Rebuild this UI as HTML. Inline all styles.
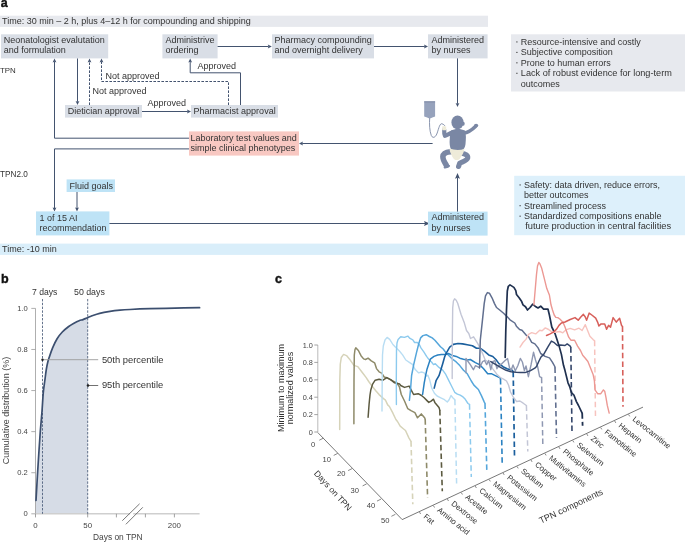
<!DOCTYPE html>
<html><head><meta charset="utf-8"><style>
html,body{margin:0;padding:0;background:#fff;}
svg{display:block;will-change:transform;}
text{font-family:"Liberation Sans",sans-serif;}
</style></head><body>
<svg width="685" height="542" viewBox="0 0 685 542" font-family="Liberation Sans, sans-serif"><text x="0.7" y="6.6" font-size="12.5" fill="#111" font-weight="bold" stroke="#111" stroke-width="0.4">a</text>
<rect x="0" y="15.7" width="488" height="11.2" fill="#e7e9ee"/>
<text x="2" y="24.3" font-size="9" fill="#333333">Time: 30 min – 2 h, plus 4–12 h for compounding and shipping</text>
<rect x="1" y="34.3" width="107.2" height="24.1" fill="#d9dee6"/>
<text x="3.7" y="43.3" font-size="9" fill="#333333">Neonatologist evalutation</text>
<text x="3.7" y="53.2" font-size="9" fill="#333333">and formulation</text>
<rect x="162.4" y="34.3" width="55.2" height="24.1" fill="#d9dee6"/>
<text x="165.6" y="43.3" font-size="9" fill="#333333">Administrive</text>
<text x="165.6" y="53.2" font-size="9" fill="#333333">ordering</text>
<rect x="272" y="34.3" width="102" height="24.1" fill="#d9dee6"/>
<text x="274.6" y="43.3" font-size="9" fill="#333333">Pharmacy compounding</text>
<text x="274.6" y="53.2" font-size="9" fill="#333333">and overnight delivery</text>
<rect x="428" y="34.3" width="59.6" height="24.1" fill="#d9dee6"/>
<text x="431.4" y="43.3" font-size="9" fill="#333333">Administered</text>
<text x="431.4" y="53.2" font-size="9" fill="#333333">by nurses</text>
<rect x="511" y="34.3" width="174" height="57.2" fill="#e7e9ee"/>
<rect x="516" y="41.5" width="1.7" height="0.9" fill="#555"/>
<text x="520.8" y="44.7" font-size="9" fill="#333333">Resource-intensive and costly</text>
<rect x="516" y="51.9" width="1.7" height="0.9" fill="#555"/>
<text x="520.8" y="55.1" font-size="9" fill="#333333">Subjective composition</text>
<rect x="516" y="62.39999999999999" width="1.7" height="0.9" fill="#555"/>
<text x="520.8" y="65.6" font-size="9" fill="#333333">Prone to human errors</text>
<rect x="516" y="72.8" width="1.7" height="0.9" fill="#555"/>
<text x="520.8" y="76.0" font-size="9" fill="#333333" textLength="151" lengthAdjust="spacingAndGlyphs">Lack of robust evidence for long-term</text>
<text x="520.8" y="86.5" font-size="9" fill="#333333">outcomes</text>
<text x="0" y="72.6" font-size="7.9" fill="#333333">TPN</text>
<rect x="65" y="105" width="77" height="12.6" fill="#d9dee6"/>
<text x="67.8" y="113.6" font-size="9" fill="#333333">Dietician approval</text>
<rect x="191" y="105" width="87" height="12.6" fill="#d9dee6"/>
<text x="193.6" y="113.6" font-size="9" fill="#333333">Pharmacist approval</text>
<text x="105.6" y="78.6" font-size="9" fill="#333333">Not approved</text>
<text x="92.6" y="94.4" font-size="9" fill="#333333">Not approved</text>
<text x="197.4" y="68.6" font-size="9" fill="#333333">Approved</text>
<text x="147.6" y="106" font-size="9" fill="#333333">Approved</text>
<path d="M77.5,58.5 L77.5,101.8" fill="none" stroke="#43536f" stroke-width="1"/>
<path d="M77.50,105.00 L75.60,101.00 L77.50,101.72 L79.40,101.00 Z" fill="#43536f"/>
<path d="M89.5,105 L89.5,61.7" fill="none" stroke="#43536f" stroke-width="1" stroke-dasharray="2.6,1.4"/>
<path d="M89.50,58.50 L87.60,62.50 L89.50,61.78 L91.40,62.50 Z" fill="#43536f"/>
<path d="M228.5,105 L228.5,81.5 L101.5,81.5 L101.5,61.7" fill="none" stroke="#43536f" stroke-width="1" stroke-dasharray="2.6,1.4"/>
<path d="M101.50,58.50 L99.60,62.50 L101.50,61.78 L103.40,62.50 Z" fill="#43536f"/>
<path d="M142,111.5 L187.8,111.5" fill="none" stroke="#43536f" stroke-width="1"/>
<path d="M191.00,111.50 L187.00,109.60 L187.72,111.50 L187.00,113.40 Z" fill="#43536f"/>
<path d="M240.5,105 L240.5,72.8 L190.2,72.8 L190.2,61.7" fill="none" stroke="#43536f" stroke-width="1"/>
<path d="M190.20,58.50 L188.30,62.50 L190.20,61.78 L192.10,62.50 Z" fill="#43536f"/>
<path d="M217.6,46.5 L268.6,46.5" fill="none" stroke="#43536f" stroke-width="1"/>
<path d="M271.80,46.50 L267.80,44.60 L268.52,46.50 L267.80,48.40 Z" fill="#43536f"/>
<path d="M374,46.5 L424.8,46.5" fill="none" stroke="#43536f" stroke-width="1"/>
<path d="M428.00,46.50 L424.00,44.60 L424.72,46.50 L424.00,48.40 Z" fill="#43536f"/>
<path d="M457.5,58.4 L457.5,103.8" fill="none" stroke="#43536f" stroke-width="1"/>
<path d="M457.50,107.00 L455.60,103.00 L457.50,103.72 L459.40,103.00 Z" fill="#43536f"/>
<rect x="189" y="131.4" width="110" height="24.2" fill="#f8c8c2"/>
<text x="190.6" y="141" font-size="9" fill="#333333">Laboratory test values and</text>
<text x="190.6" y="151" font-size="9" fill="#333333">simple clinical phenotypes</text>
<path d="M432.6,143.5 L302.2,143.5" fill="none" stroke="#43536f" stroke-width="1"/>
<path d="M299.00,143.50 L303.00,141.60 L302.28,143.50 L303.00,145.40 Z" fill="#43536f"/>
<path d="M189,138.2 L54.5,138.2 L54.5,61.7" fill="none" stroke="#43536f" stroke-width="1"/>
<path d="M54.50,58.50 L52.60,62.50 L54.50,61.78 L56.40,62.50 Z" fill="#43536f"/>
<path d="M189,148.9 L54.5,148.9 L54.5,208.20000000000002" fill="none" stroke="#43536f" stroke-width="1"/>
<path d="M54.50,211.40 L52.60,207.40 L54.50,208.12 L56.40,207.40 Z" fill="#43536f"/>
<text x="0" y="177.4" font-size="8.2" fill="#333333">TPN2.0</text>
<rect x="66.6" y="179.4" width="48.4" height="12.6" fill="#bee3f6"/>
<text x="69.6" y="188.6" font-size="9" fill="#333333">Fluid goals</text>
<path d="M77,192 L77,208.20000000000002" fill="none" stroke="#43536f" stroke-width="1"/>
<path d="M77.00,211.40 L75.10,207.40 L77.00,208.12 L78.90,207.40 Z" fill="#43536f"/>
<rect x="36" y="211.4" width="73.4" height="24" fill="#bee3f6"/>
<text x="39.4" y="220.6" font-size="9" fill="#333333">1 of 15 AI</text>
<text x="39.4" y="231" font-size="9" fill="#333333">recommendation</text>
<path d="M109.4,223.5 L425.16,223.5" fill="none" stroke="#43536f" stroke-width="1"/>
<path d="M429.80,223.50 L424.00,221.00 L425.04,223.50 L424.00,226.00 Z" fill="#43536f"/>
<rect x="428" y="211.6" width="59.6" height="24" fill="#bee3f6"/>
<text x="431.4" y="220.4" font-size="9" fill="#333333">Administered</text>
<text x="431.4" y="230.6" font-size="9" fill="#333333">by nurses</text>
<path d="M457.5,211.6 L457.5,177.54" fill="none" stroke="#43536f" stroke-width="1"/>
<path d="M457.50,172.90 L455.00,178.70 L457.50,177.66 L460.00,178.70 Z" fill="#43536f"/>
<rect x="514.2" y="175.8" width="170.8" height="59.4" fill="#ddf0fb"/>
<rect x="519.3" y="184.5" width="1.7" height="0.9" fill="#555"/>
<text x="523.9" y="187.7" font-size="9" fill="#333333">Safety: data driven, reduce errors,</text>
<text x="523.9" y="198.1" font-size="9" fill="#333333">better outcomes</text>
<rect x="519.3" y="205.3" width="1.7" height="0.9" fill="#555"/>
<text x="523.9" y="208.5" font-size="9" fill="#333333">Streamlined process</text>
<rect x="519.3" y="215.70000000000002" width="1.7" height="0.9" fill="#555"/>
<text x="523.9" y="218.9" font-size="9" fill="#333333">Standardized compositions enable</text>
<text x="525.2" y="229.4" font-size="9" fill="#333333" textLength="146" lengthAdjust="spacingAndGlyphs">future production in central facilities</text>
<rect x="0" y="243.6" width="488" height="11.3" fill="#d9eefa"/>
<text x="2" y="252.2" font-size="9" fill="#333333">Time: -10 min</text>
<path d="M424.2,101.6 L435.1,101.6 L435.1,116.6 L433,117.3 L430.6,118.2 L428.8,118.2 L426.5,117.3 L424.2,116.6 Z" fill="#96a2bc"/>
<rect x="424.2" y="101.3" width="10.9" height="1.1" fill="#7f8ba6"/>
<path d="M429.7,118 C429.2,124 429.6,131 431.3,135.5 C432.5,138.5 435.5,138 437.2,133 C438.8,128 440,123 442,123.8 C443.5,124.3 444.5,125.2 445,126" fill="none" stroke="#7d89a5" stroke-width="0.9"/>
<g transform="translate(440,112) scale(0.11084)">
<ellipse cx="158" cy="94" rx="55" ry="62" fill="#7a87a4"/>
<ellipse cx="210" cy="105" rx="13" ry="18" fill="#7a87a4"/>
<path d="M100,168 C130,148 190,148 225,168 C238,200 234,250 230,290 C226,322 214,338 198,342 L102,342 C88,322 84,282 88,242 C90,212 92,188 100,168 Z" fill="#7a87a4"/>
<path d="M110,185 C85,195 60,210 45,215 C38,200 37,180 38,160" fill="none" stroke="#7a87a4" stroke-width="38" stroke-linecap="round" stroke-linejoin="round"/>
<path d="M212,190 C255,185 290,160 322,128" fill="none" stroke="#7a87a4" stroke-width="32" stroke-linecap="round"/>
<ellipse cx="326" cy="122" rx="19" ry="16" fill="#7a87a4"/>
<path d="M95,358 C55,362 28,378 26,402 C25,428 42,455 56,478" fill="none" stroke="#7a87a4" stroke-width="50" stroke-linecap="round"/>
<ellipse cx="62" cy="493" rx="30" ry="14" transform="rotate(-18 62 493)" fill="#7a87a4"/>
<path d="M192,372 C232,376 254,392 250,415 C246,436 205,448 178,462 L168,490" fill="none" stroke="#7a87a4" stroke-width="46" stroke-linecap="round" stroke-linejoin="round"/>
<ellipse cx="163" cy="497" rx="17" ry="16" fill="#7a87a4"/>
<rect x="20" y="128" width="36" height="36" rx="4" fill="#eeebd9"/>
<path d="M86,330 C130,346 180,346 220,334 C217,364 202,386 186,410 C176,430 160,436 140,432 C118,428 110,400 100,380 C92,364 87,350 86,330 Z" fill="#eeebd9"/>
</g>
<text x="0.9" y="282.7" font-size="12.5" fill="#111" font-weight="bold" stroke="#111" stroke-width="0.4">b</text>
<path d="M36,500.5 C36.23,496.42 36.92,484.08 37.40,476.00 C37.88,467.92 38.40,459.67 38.90,452.00 C39.40,444.33 39.88,436.80 40.40,430.00 C40.92,423.20 41.52,417.48 42.00,411.20 C42.48,404.92 42.82,397.50 43.30,392.30 C43.78,387.10 44.40,383.80 44.90,380.00 C45.40,376.20 45.82,372.50 46.30,369.50 C46.78,366.50 47.28,364.12 47.80,362.00 C48.32,359.88 48.60,359.17 49.40,356.80 C50.20,354.43 51.32,350.82 52.60,347.80 C53.88,344.78 55.48,341.33 57.10,338.70 C58.72,336.07 60.37,334.03 62.30,332.00 C64.23,329.97 66.75,327.97 68.70,326.50 C70.65,325.03 72.27,324.17 74.00,323.20 C75.73,322.23 77.60,321.30 79.10,320.70 C80.60,320.10 81.72,320.05 83.00,319.60 C84.28,319.15 86.02,318.33 86.80,318.00 C87.58,317.67 87.55,317.67 87.70,317.60 L87.7,513.8 L35.5,513.8 L35.5,500.5 Z" fill="#d6dce6"/>
<path d="M35.5,308.4 L35.5,513.8" stroke="#9a9a9a" stroke-width="0.8" fill="none"/>
<path d="M35.5,513.8 L130,513.8 M133.2,513.8 L199.6,513.8" stroke="#cfcfcf" stroke-width="1.4" fill="none"/>
<path d="M31.3,513.80 L35.5,513.80" stroke="#9a9a9a" stroke-width="0.8"/>
<text x="27.8" y="516.4" font-size="7.6" fill="#444" text-anchor="end">0</text>
<path d="M31.3,472.72 L35.5,472.72" stroke="#9a9a9a" stroke-width="0.8"/>
<text x="27.8" y="475.32" font-size="7.6" fill="#444" text-anchor="end">0.2</text>
<path d="M31.3,431.64 L35.5,431.64" stroke="#9a9a9a" stroke-width="0.8"/>
<text x="27.8" y="434.24" font-size="7.6" fill="#444" text-anchor="end">0.4</text>
<path d="M31.3,390.56 L35.5,390.56" stroke="#9a9a9a" stroke-width="0.8"/>
<text x="27.8" y="393.16" font-size="7.6" fill="#444" text-anchor="end">0.6</text>
<path d="M31.3,349.48 L35.5,349.48" stroke="#9a9a9a" stroke-width="0.8"/>
<text x="27.8" y="352.08" font-size="7.6" fill="#444" text-anchor="end">0.8</text>
<path d="M31.3,308.40 L35.5,308.40" stroke="#9a9a9a" stroke-width="0.8"/>
<text x="27.8" y="311.0" font-size="7.6" fill="#444" text-anchor="end">1.0</text>
<path d="M35.5,513.8 L35.5,517.4" stroke="#8a8a8a" stroke-width="0.8"/>
<path d="M87.7,513.8 L87.7,517.4" stroke="#8a8a8a" stroke-width="0.8"/>
<path d="M116.4,513.8 L116.4,517.4" stroke="#8a8a8a" stroke-width="0.8"/>
<path d="M145.4,513.8 L145.4,517.4" stroke="#8a8a8a" stroke-width="0.8"/>
<path d="M174.4,513.8 L174.4,517.4" stroke="#8a8a8a" stroke-width="0.8"/>
<text x="35.5" y="527.6" font-size="7.9" fill="#444" text-anchor="middle">0</text>
<text x="87.7" y="527.6" font-size="7.9" fill="#444" text-anchor="middle">50</text>
<text x="174.4" y="527.6" font-size="7.9" fill="#444" text-anchor="middle">200</text>
<path d="M122.3,520.7 L139.6,503.8 M125.9,524.3 L142.8,507.3" stroke="#555" stroke-width="0.8" fill="none"/>
<text x="93" y="540" font-size="8.4" fill="#444">Days on TPN</text>
<path d="M42.5,299 L42.5,513.8 M87.7,299 L87.7,513.8" stroke="#3c4f6f" stroke-width="0.8" stroke-dasharray="2.4,1.4" fill="none"/>
<text x="32" y="294.6" font-size="8.6" fill="#333">7 days</text>
<text x="74" y="294.6" font-size="8.8" fill="#333">50 days</text>
<path d="M36,500.5 C36.23,496.42 36.92,484.08 37.40,476.00 C37.88,467.92 38.40,459.67 38.90,452.00 C39.40,444.33 39.88,436.80 40.40,430.00 C40.92,423.20 41.52,417.48 42.00,411.20 C42.48,404.92 42.82,397.50 43.30,392.30 C43.78,387.10 44.40,383.80 44.90,380.00 C45.40,376.20 45.82,372.50 46.30,369.50 C46.78,366.50 47.28,364.12 47.80,362.00 C48.32,359.88 48.60,359.17 49.40,356.80 C50.20,354.43 51.32,350.82 52.60,347.80 C53.88,344.78 55.48,341.33 57.10,338.70 C58.72,336.07 60.37,334.03 62.30,332.00 C64.23,329.97 66.75,327.97 68.70,326.50 C70.65,325.03 72.27,324.17 74.00,323.20 C75.73,322.23 77.60,321.30 79.10,320.70 C80.60,320.10 81.72,320.05 83.00,319.60 C84.28,319.15 85.30,318.63 86.80,318.00 C88.30,317.37 89.85,316.58 92.00,315.80 C94.15,315.02 96.70,314.03 99.70,313.30 C102.70,312.57 106.62,311.92 110.00,311.40 C113.38,310.88 116.67,310.52 120.00,310.20 C123.33,309.88 125.00,309.75 130.00,309.50 C135.00,309.25 142.50,308.93 150.00,308.70 C157.50,308.47 166.73,308.27 175.00,308.10 C183.27,307.93 195.50,307.77 199.60,307.70" fill="none" stroke="#3c4f6f" stroke-width="1.7" stroke-linecap="round"/>
<path d="M42.5,359.7 L98.2,359.7" stroke="#9c9c9c" stroke-width="0.9"/>
<circle cx="42.5" cy="359.7" r="1.2" fill="#222"/>
<path d="M88,385.5 L98.2,385.5" stroke="#333" stroke-width="0.7"/>
<circle cx="88" cy="385.5" r="1.3" fill="#222"/>
<text x="101.9" y="362.5" font-size="9" fill="#333" textLength="61.6" lengthAdjust="spacingAndGlyphs">50th percentile</text>
<text x="101.9" y="387.6" font-size="9" fill="#333" textLength="61.3" lengthAdjust="spacingAndGlyphs">95th percentile</text>
<text transform="translate(8.8,410.6) rotate(-90)" text-anchor="middle" font-size="9" fill="#444">Cumulative distribution (%)</text>
<text x="274.9" y="283.2" font-size="12.5" fill="#111" font-weight="bold" stroke="#111" stroke-width="0.4">c</text>
<path d="M317.8,345 L317.8,433.1" stroke="#aaa" stroke-width="0.8" fill="none"/>
<path d="M314.3,432.0 L317.8,432.0" stroke="#8c8c8c" stroke-width="0.8"/>
<text x="312.8" y="434.5" font-size="7.3" fill="#444" text-anchor="end">0</text>
<path d="M314.3,414.6 L317.8,414.6" stroke="#8c8c8c" stroke-width="0.8"/>
<text x="312.8" y="417.1" font-size="7.3" fill="#444" text-anchor="end">0.2</text>
<path d="M314.3,397.2 L317.8,397.2" stroke="#8c8c8c" stroke-width="0.8"/>
<text x="312.8" y="399.7" font-size="7.3" fill="#444" text-anchor="end">0.4</text>
<path d="M314.3,379.8 L317.8,379.8" stroke="#8c8c8c" stroke-width="0.8"/>
<text x="312.8" y="382.3" font-size="7.3" fill="#444" text-anchor="end">0.6</text>
<path d="M314.3,362.4 L317.8,362.4" stroke="#8c8c8c" stroke-width="0.8"/>
<text x="312.8" y="364.9" font-size="7.3" fill="#444" text-anchor="end">0.8</text>
<path d="M314.3,345.0 L317.8,345.0" stroke="#8c8c8c" stroke-width="0.8"/>
<text x="312.8" y="347.5" font-size="7.3" fill="#444" text-anchor="end">1.0</text>
<text transform="translate(284.3,388.1) rotate(-90)" text-anchor="middle" font-size="9" fill="#333">Minimum to maximum</text>
<text transform="translate(292.6,388.1) rotate(-90)" text-anchor="middle" font-size="9" fill="#333">normalized values</text>
<path d="M318.3,433.1 L402.2,519.6 L643,407.1" stroke="#555" stroke-width="0.8" fill="none"/>
<path d="M323.3,438.2 L319.3,440.2" stroke="#555" stroke-width="0.7"/>
<path d="M337.7,453.4 L333.7,455.4" stroke="#555" stroke-width="0.7"/>
<path d="M352.1,468.6 L348.1,470.6" stroke="#555" stroke-width="0.7"/>
<path d="M366.6,483.9 L362.6,485.9" stroke="#555" stroke-width="0.7"/>
<path d="M381.0,499.1 L377.0,501.1" stroke="#555" stroke-width="0.7"/>
<path d="M395.4,514.3 L391.4,516.3" stroke="#555" stroke-width="0.7"/>
<text x="313.2" y="447.0" font-size="7.6" fill="#444" text-anchor="middle">0</text>
<text x="326.8" y="461.8" font-size="7.6" fill="#444" text-anchor="middle">10</text>
<text x="341.2" y="476.0" font-size="7.6" fill="#444" text-anchor="middle">20</text>
<text x="354.8" y="492.7" font-size="7.6" fill="#444" text-anchor="middle">30</text>
<text x="371" y="508.3" font-size="7.6" fill="#444" text-anchor="middle">40</text>
<text x="385.2" y="523.1" font-size="7.6" fill="#444" text-anchor="middle">50</text>
<text transform="translate(333,490.5) rotate(47.5)" text-anchor="middle" dominant-baseline="central" font-size="8.6" fill="#333">Days on TPN</text>
<path d="M419.5,512.1 L420.6,514.0" stroke="#555" stroke-width="0.7"/>
<text transform="translate(422.9,517.5) rotate(39)" font-size="7.8" fill="#333">Fat</text>
<path d="M433.4,505.6 L434.5,507.5" stroke="#555" stroke-width="0.7"/>
<text transform="translate(436.8,511.0) rotate(39)" font-size="7.8" fill="#333">Amino acid</text>
<path d="M447.4,499.1 L448.5,501.0" stroke="#555" stroke-width="0.7"/>
<text transform="translate(450.8,504.5) rotate(39)" font-size="7.8" fill="#333">Dextrose</text>
<path d="M461.3,492.6 L462.4,494.5" stroke="#555" stroke-width="0.7"/>
<text transform="translate(464.7,498.0) rotate(39)" font-size="7.8" fill="#333">Acetate</text>
<path d="M475.3,486.1 L476.4,488.0" stroke="#555" stroke-width="0.7"/>
<text transform="translate(478.7,491.5) rotate(39)" font-size="7.8" fill="#333">Calcium</text>
<path d="M489.2,479.6 L490.3,481.4" stroke="#555" stroke-width="0.7"/>
<text transform="translate(492.6,484.9) rotate(39)" font-size="7.8" fill="#333">Magnesium</text>
<path d="M503.1,473.0 L504.2,474.9" stroke="#555" stroke-width="0.7"/>
<text transform="translate(506.5,478.4) rotate(39)" font-size="7.8" fill="#333">Potassium</text>
<path d="M517.1,466.5 L518.2,468.4" stroke="#555" stroke-width="0.7"/>
<text transform="translate(520.5,471.9) rotate(39)" font-size="7.8" fill="#333">Sodium</text>
<path d="M531.0,460.0 L532.1,461.9" stroke="#555" stroke-width="0.7"/>
<text transform="translate(534.4,465.4) rotate(39)" font-size="7.8" fill="#333">Copper</text>
<path d="M545.0,453.5 L546.1,455.4" stroke="#555" stroke-width="0.7"/>
<text transform="translate(548.4,458.9) rotate(39)" font-size="7.8" fill="#333">Multivitamins</text>
<path d="M558.9,447.0 L560.0,448.9" stroke="#555" stroke-width="0.7"/>
<text transform="translate(562.3,452.4) rotate(39)" font-size="7.8" fill="#333">Phosphate</text>
<path d="M572.8,440.5 L573.9,442.4" stroke="#555" stroke-width="0.7"/>
<text transform="translate(576.2,445.9) rotate(39)" font-size="7.8" fill="#333">Selenium</text>
<path d="M586.8,434.0 L587.9,435.9" stroke="#555" stroke-width="0.7"/>
<text transform="translate(590.2,439.4) rotate(39)" font-size="7.8" fill="#333">Zinc</text>
<path d="M600.7,427.5 L601.8,429.4" stroke="#555" stroke-width="0.7"/>
<text transform="translate(604.1,432.9) rotate(39)" font-size="7.8" fill="#333">Famotidine</text>
<path d="M614.7,421.0 L615.8,422.9" stroke="#555" stroke-width="0.7"/>
<text transform="translate(618.1,426.4) rotate(39)" font-size="7.8" fill="#333">Heparin</text>
<path d="M628.6,414.5 L629.7,416.4" stroke="#555" stroke-width="0.7"/>
<text transform="translate(632.0,419.9) rotate(39)" font-size="7.8" fill="#333">Levocarnitine</text>
<text transform="translate(571,506.2) rotate(-25.5)" text-anchor="middle" dominant-baseline="central" font-size="9" fill="#333">TPN components</text>
<path d="M339.7,429.6 L339.8,380 L340.3,364 L341.3,357.5 L343.6,354.4 L346.5,355.6 L349.4,358.9 L353.9,365.4 L357.8,366.6 L362.3,372.5 L366.2,377.6 L368.7,381.5 L372.6,386.7 L376,391 L379.1,394.6 L383.5,398.6 L385.5,400.2 L387.7,404.9 L389.4,406.5 L392.9,413.2 L395.9,419.5 L397.5,421.5 L400.2,426.2 L403,428.5 L405.5,430.5 L409,438.1 L411,441.3" fill="none" stroke="#d6d3b9" stroke-width="1.5" stroke-linejoin="round" stroke-linecap="round"/>
<path d="M411,441.3 L412.8,504.2" fill="none" stroke="#d6d3b9" stroke-width="1.6" stroke-dasharray="5.5,3.2"/>
<path d="M353.9,423.7 L354,380 L354.3,355 L355,349.5 L355.8,347.9 L358.4,350.5 L361,355.7 L363.6,358.9 L365.5,359.5 L368.1,358.2 L371.3,360.8 L374.6,362.8 L376.5,368.6 L379.1,371.8 L381.7,373.1 L384.2,377 L386.5,377.7 L391.6,380.3 L396.8,382.9 L399.4,386.8 L401.3,394.5 L404.5,401 L407.8,408.7 L411,410.7 L414.9,412.6 L417.5,417.8 L421.3,413.9 L424.6,417.8 L425.2,419.3" fill="none" stroke="#8e8a69" stroke-width="1.5" stroke-linejoin="round" stroke-linecap="round"/>
<path d="M425.2,419.3 L427.6,497.8" fill="none" stroke="#8e8a69" stroke-width="1.6" stroke-dasharray="5.5,3.2"/>
<path d="M368.1,417.2 L368.5,412 L369.1,404 L370,395 L370.8,390 L372.6,384.1 L375.2,380.2 L379.1,379.3 L383,380.2 L386.8,377.6 L390.7,379.6 L394.6,382.8 L399.7,384.1 L400.7,385.5 L404.5,387.4 L409.1,386.1 L413.6,394.5 L418.2,393.7 L421.5,395.5 L424.2,397.8 L427,400.6 L428.8,402.4 L431.1,401.1 L433.5,399.2 L434.8,402.4 L437.1,405.2 L439,407.5 L439.8,410.1" fill="none" stroke="#5c5a40" stroke-width="1.5" stroke-linejoin="round" stroke-linecap="round"/>
<path d="M439.8,410.1 L442.3,491.3" fill="none" stroke="#5c5a40" stroke-width="1.6" stroke-dasharray="5.5,3.2"/>
<path d="M382,411 L382.2,380 L382.5,355 L383.3,346 L385,340 L387.1,337.4 L389.7,339.4 L392.9,344.5 L396.1,347.8 L399.4,351 L402.6,354.9 L405.8,360 L409.7,362.6 L412.8,364.7 L415,369.2 L418.7,372.9 L421.5,372 L424.2,372.9 L426.1,376.1 L427.9,375.2 L429.8,380.3 L431.6,387.7 L434.4,393.2 L437.1,396 L440.8,397.8 L444.5,399.7 L447.3,402 L449.1,399.7 L451,395.5 L452.8,397.8 L454.9,399.7" fill="none" stroke="#b8ddf3" stroke-width="1.4" stroke-linejoin="round" stroke-linecap="round"/>
<path d="M454.9,399.7 L456.6,484" fill="none" stroke="#b8ddf3" stroke-width="1.5" stroke-dasharray="5.5,3.2"/>
<path d="M396.4,404.6 L396.3,380 L396.5,350 L397,343 L398.1,339.4 L400.7,336.8 L404.5,337.4 L407.8,336.1 L410,338.4 L412.8,339.8 L414.6,342.5 L417.4,342.5 L419.2,344.4 L421.1,348.1 L423.8,351.8 L426.6,356.4 L429.4,360.1 L431.5,362 L433.5,364.6 L435.3,363.7 L439,367.4 L442.7,370.1 L445.4,373.8 L448.2,379.4 L451.9,386.8 L454.7,392.3 L457.4,394.1 L460.2,395.1 L463,396.9 L465.1,399.1 L468,403.5 L469.5,404.3" fill="none" stroke="#8ccaee" stroke-width="1.4" stroke-linejoin="round" stroke-linecap="round"/>
<path d="M469.5,404.3 L471.3,477" fill="none" stroke="#8ccaee" stroke-width="1.5" stroke-dasharray="5.5,3.2"/>
<path d="M409.4,400.3 L410.5,390 L411.6,375.5 L413.7,364.7 L416.5,352.7 L418.8,343.5 L420.6,337.9 L422.9,335.6 L426.2,334.7 L429.4,336.5 L432.2,337.9 L434.9,340.2 L437.7,343.5 L440.5,346.7 L443.2,349 L446,352.7 L448.8,355.5 L452.5,359.2 L456.2,361.9 L459.8,365.6 L463.5,370.2 L467.3,373.8 L471.3,381 L473.9,385.1 L478.4,389.5 L481.3,395.4 L484.3,402.1 L485,403.5" fill="none" stroke="#55a6db" stroke-width="1.5" stroke-linejoin="round" stroke-linecap="round"/>
<path d="M485,403.5 L486.8,470.4" fill="none" stroke="#55a6db" stroke-width="1.6" stroke-dasharray="5.5,3.2"/>
<path d="M422.6,394.5 L424.2,383.1 L425.6,375.7 L427,369.2 L428.8,363.7 L430.3,359.2 L434,356.4 L437.7,355 L441.4,354.5 L445.1,354.5 L448.8,353.6 L452.5,355.5 L456.2,356.4 L459.8,358.2 L463.5,359.2 L467.2,360.1 L470.3,359.5 L475.4,362.6 L479.5,364.6 L483.6,368.7 L487.7,373.8 L491.8,373.8 L495.9,375.9 L500,377.9 L500.5,379" fill="none" stroke="#2b82c2" stroke-width="1.5" stroke-linejoin="round" stroke-linecap="round"/>
<path d="M500.5,379 L502.2,464" fill="none" stroke="#2b82c2" stroke-width="1.6" stroke-dasharray="5.5,3.2"/>
<path d="M434.2,388.1 L436.2,380.3 L439,375.7 L440.8,370.1 L442.7,363.7 L444.6,357 L446,353.6 L449.7,347.2 L453.4,344.4 L458,343.5 L462.6,343.9 L467.2,344.8 L472.4,345.7 L476.5,348.3 L480.5,348.3 L484.6,351.3 L488.7,354.9 L492.8,356.5 L495.9,359.5 L498.9,363.6 L503,366.7 L507.1,368.7 L512.2,370.3 L513.2,371.8" fill="none" stroke="#1b5f9d" stroke-width="1.6" stroke-linejoin="round" stroke-linecap="round"/>
<path d="M513.2,371.8 L514.5,456.4" fill="none" stroke="#1b5f9d" stroke-width="1.7" stroke-dasharray="5.5,3.2"/>
<path d="M452.2,378.5 L452.3,340 L452.7,308 L453.4,301 L454.6,298.8 L456.2,300.2 L457.7,303.2 L461,314.3 L464.4,323.1 L466.5,330.5 L468.8,333.5 L470.5,338.5 L473.6,336.8 L477.5,343.2 L480,347.8 L482.6,353.6 L485.2,360 L489.1,362.6 L493,369.1 L496.8,374.2 L500.3,377.5 L503.5,379.2 L506.5,381 L508.5,385 L510.5,392 L513.5,397.5 L516.6,401.5 L519.9,401 L523.2,403.2 L526.4,405.5" fill="none" stroke="#c3c6d6" stroke-width="1.4" stroke-linejoin="round" stroke-linecap="round"/>
<path d="M526.4,405.5 L527.8,451.4" fill="none" stroke="#c3c6d6" stroke-width="1.5" stroke-dasharray="5.5,3.2"/>
<path d="M466,372.8 L466,358.5 L467.3,360.5 L470.3,364.6 L473.4,369.7 L475.4,365.7 L477.5,366.7 L479.5,367.7 L482.6,361.6 L484.6,360.5 L486.7,364.6 L488.7,360.5 L490.8,369.7 L492.8,361.6 L494.9,360.5 L496.9,368.7 L498.9,365.7 L502,363.6 L505.1,360.5 L507.6,358.6 L509.5,367.7 L511.2,370.2 L513,365 L515.3,370.8 L517.8,365.7 L520.3,358.4 L522.4,362 L524.4,370.6 L526,366 L528.4,376.7 L531,365 L533.5,352.3 L535.5,360 L537.6,366.5 L539.6,376.7 L541.6,377.7" fill="none" stroke="#8f98b2" stroke-width="1.4" stroke-linejoin="round" stroke-linecap="round"/>
<path d="M541.6,377.7 L542.8,443.9" fill="none" stroke="#8f98b2" stroke-width="1.5" stroke-dasharray="5.5,3.2"/>
<path d="M479.5,368 L480.3,340 L482.3,321.7 L484.2,303.6 L485.5,295.8 L487.4,292.6 L489.4,293.2 L492,297.8 L494.5,303.6 L496.5,307.5 L499.7,310 L503.6,313.3 L507.5,317.1 L510,319.8 L514.8,323 L516.4,326.2 L519.6,329.5 L522,330.3 L526.1,335.1 L528.5,336.7 L531.7,342.3 L534.9,343.9 L538.1,347.9 L540.7,353.5 L545.1,356.4 L549.5,357.9 L552.5,362.3 L554.8,366.5 L555,367.6" fill="none" stroke="#616f8f" stroke-width="1.5" stroke-linejoin="round" stroke-linecap="round"/>
<path d="M555,367.6 L556.5,438.1" fill="none" stroke="#616f8f" stroke-width="1.6" stroke-dasharray="5.5,3.2"/>
<path d="M490.8,361.6 L495.9,364.6 L501,367.7 L506.1,370.3 L511.2,371.8 L516.3,372.3 L520.3,372.6 L525,372.6 L530.5,370.6 L534.8,368.2 L536.5,366.5 L539,361 L541,357 L543.7,354.4 L547.8,347.1 L551.4,341.1 L553.8,342.3 L557.4,345.5 L560.6,345.1 L565,345.5 L567.2,343.9 L570.2,346.1 L570.8,347.3" fill="none" stroke="#34466a" stroke-width="1.5" stroke-linejoin="round" stroke-linecap="round"/>
<path d="M570.8,347.3 L572,432.3" fill="none" stroke="#34466a" stroke-width="1.6" stroke-dasharray="5.5,3.2"/>
<path d="M505.2,357.4 L505.8,330 L506.5,310 L507.3,291 L508.3,286.3 L510,284.9 L513.9,287.4 L515.8,290.7 L516.5,294.5 L519.1,297.8 L521.7,301.6 L523,304.9 L525.5,306.8 L527.5,310 L530.1,307.5 L532.6,304.2 L535.9,306.8 L538,308 L540.7,306.2 L543.6,309.2 L548,309.2 L549.4,315 L551.8,327 L555,333.5 L557.4,340.7 L559.4,347.1 L561.4,354.4 L563.5,365.3 L565,370.6 L568,382.8 L569.7,386.6 L571.4,392.5 L573.9,395 L576.4,401.6 L578.5,405.5 L581.4,411.6 L582.2,413.2" fill="none" stroke="#1f304f" stroke-width="1.7" stroke-linejoin="round" stroke-linecap="round"/>
<path d="M582.2,413.2 L582.6,425.7" fill="none" stroke="#1f304f" stroke-width="1.8" stroke-dasharray="5.5,3.2"/>
<path d="M520,347.1 L523,342.5 L526.1,339.1 L528.5,334.3 L531.7,332.7 L535.7,333.9 L539.7,330.3 L542.1,330.7 L545.3,327.9 L548.6,329.5 L551.8,331.9 L555,332.3 L559.8,331.5 L562.8,332.8 L565.8,329.9 L570.2,328.4 L574.6,329.9 L579,328.2 L582.1,330.5 L585.3,324.7 L587.9,331.2 L589.9,336.3 L593.1,339.6 L594.6,340.8" fill="none" stroke="#f7c3be" stroke-width="1.4" stroke-linejoin="round" stroke-linecap="round"/>
<path d="M594.6,340.8 L595.5,418.9" fill="none" stroke="#f7c3be" stroke-width="1.5" stroke-dasharray="5.5,3.2"/>
<path d="M533.9,304.9 L535,292 L536.5,274.4 L537.5,266 L538.8,262.5 L540,264 L541.6,267.9 L544.2,278.2 L546.8,288.6 L549.4,295 L551,304.8 L552.5,310 L554.2,315 L555.8,317.4 L557.8,317.6 L559.8,319 L563,322.2 L565,327 L568.7,337.2 L570.9,340.2 L574.6,340.2 L577.6,346.1 L580.5,350.5 L582.7,355.3 L585.3,358.2 L587.9,361.5 L590.5,367.9 L593.1,374.4 L594.4,380.8 L595,389.9 L597.6,393.7 L600.8,393.7 L603.4,389.9 L604.7,391.2 L606,397.6 L607.3,405.4 L609.2,413.1" fill="none" stroke="#ec9893" stroke-width="1.4" stroke-linejoin="round" stroke-linecap="round"/>
<path d="M546.5,335.5 L550.2,333.9 L553.8,331.9 L556.6,329.1 L559,325.4 L561.4,323 L565,322 L570.2,319.5 L575,317.6 L578.2,320.2 L580.8,317 L583.4,314.4 L585.3,317 L586.6,320.2 L589.2,313.1 L591.8,315 L595.7,318.2 L597.6,322.1 L598.9,326 L600.8,324.1 L604.7,324.1 L606.6,329.2 L608.6,325.3 L610.5,327.3 L613.1,317.6 L616.3,322.1 L619.6,318.2 L621.5,325.3 L622.5,326.6" fill="none" stroke="#d75f5a" stroke-width="1.5" stroke-linejoin="round" stroke-linecap="round"/>
<path d="M622.5,326.6 L623,406.7" fill="none" stroke="#d75f5a" stroke-width="1.6" stroke-dasharray="5.5,3.2"/></svg>
</body></html>
